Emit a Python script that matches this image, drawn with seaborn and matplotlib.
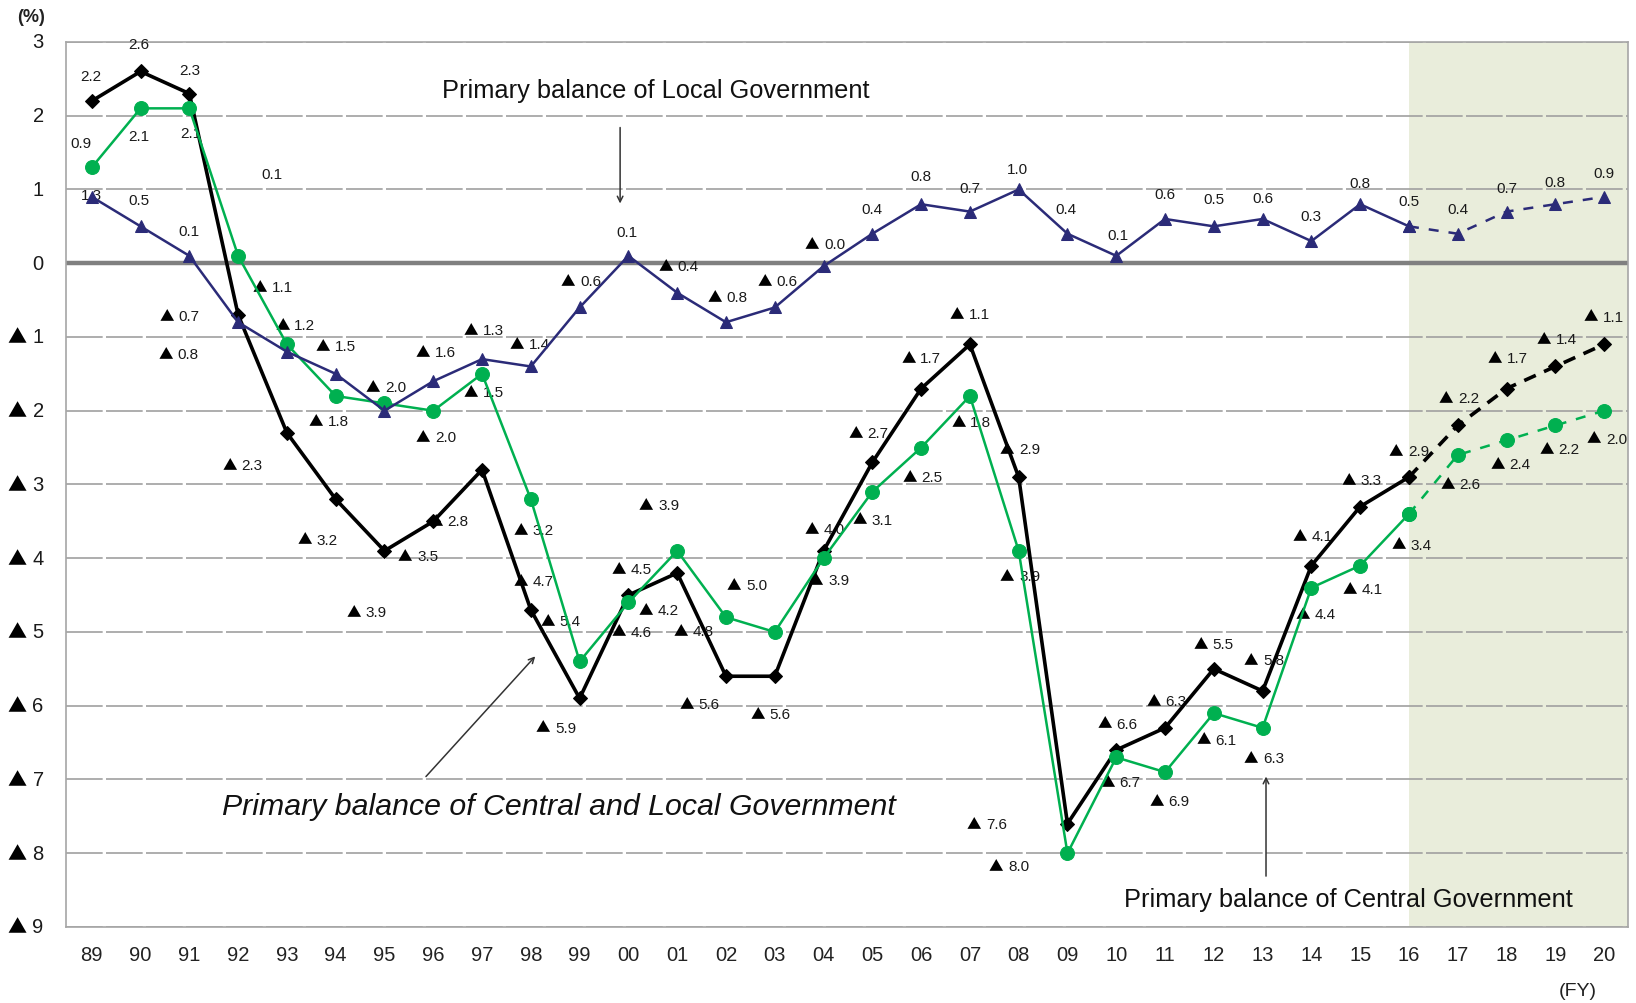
import pandas as pd
import seaborn as sns
import matplotlib.pyplot as plt
from matplotlib.offsetbox import TextArea, HPacker, AnnotationBbox

# fiscal years and primary balance (% of GDP); the last five are forecasts
years = ['89', '90', '91', '92', '93', '94', '95', '96', '97', '98', '99', '00', '01', '02', '03', '04',
         '05', '06', '07', '08', '09', '10', '11', '12', '13', '14', '15', '16', '17', '18', '19', '20']
central_local = [2.2, 2.6, 2.3, -0.7, -2.3, -3.2, -3.9, -3.5, -2.8, -4.7, -5.9, -4.5, -4.2, -5.6, -5.6, -3.9,
                 -2.7, -1.7, -1.1, -2.9, -7.6, -6.6, -6.3, -5.5, -5.8, -4.1, -3.3, -2.9, -2.2, -1.7, -1.4, -1.1]
central = [1.3, 2.1, 2.1, 0.1, -1.1, -1.8, -1.9, -2.0, -1.5, -3.2, -5.4, -4.6, -3.9, -4.8, -5.0, -4.0,
           -3.1, -2.5, -1.8, -3.9, -8.0, -6.7, -6.9, -6.1, -6.3, -4.4, -4.1, -3.4, -2.6, -2.4, -2.2, -2.0]
local = [0.9, 0.5, 0.1, -0.8, -1.2, -1.5, -2.0, -1.6, -1.3, -1.4, -0.6, 0.1, -0.4, -0.8, -0.6, -0.04,
         0.4, 0.8, 0.7, 1.0, 0.4, 0.1, 0.6, 0.5, 0.6, 0.3, 0.8, 0.5, 0.4, 0.7, 0.8, 0.9]
first_forecast = '16'
ytick_vals = list(range(3, -10, -1))

# label offsets in points (None = no label drawn)
off_cl = [(-1, 18), (-1, 20), (0, 17), (-42, -1), (-32, -23), (-13, -29), (-13, -44), (-11, -25), (-24, -37),
          (2, 21), (-17, -21), (2, 19), (-13, -27), (-19, -20), (-3, -27), (4, -21), (-3, 21), (0, 22),
          (0, 22), (1, 20), (-58, 0), (1, 19), (1, 19), (0, 18), (1, 22), (1, 21), (1, 19), (0, 19),
          (1, 20), (1, 22), (1, 20), (0, 20)]
off_c = [(0, -20), (-1, -20), (1, -18), (24, 59), (-10, 41), (-5, -18), None, (2, -19), (1, -13),
         (2, -22), (-14, 29), (2, -21), (-13, 33), (-23, -10), (-20, 34), (1, 21), (0, -20), (1, -21),
         (1, -19), (1, -18), (-42, -9), (3, -18), (3, -21), (2, -19), (1, -22), (3, -19), (2, -17),
         (2, -22), (2, -21), (3, -17), (3, -17), (2, -20)]
off_l = [(-8, 39), (-1, 19), (0, 18), (-43, -23), (6, 19), (0, 20), (1, 17), (2, 21), (1, 21), (-1, 16),
         (1, 19), (-1, 17), (1, 19), (1, 18), (2, 19), (1, 16), (0, 18), (0, 20), (0, 17), (-1, 15),
         (-1, 18), (1, 15), (0, 18), (0, 20), (0, 15), (0, 18), (0, 15), (0, 18), (0, 18), (0, 17),
         (0, 16), (0, 17)]

sns.set_style('white')
plt.rcParams['font.family'] = ['Liberation Sans', 'DejaVu Sans']

df = pd.DataFrame({'pos': range(len(years)), 'year': years, 'cl': central_local, 'c': central, 'l': local})
k = years.index(first_forecast)
actual = df.iloc[:k + 1]
forecast = df.iloc[k:]


def value_box(v, size, digits=1):
    # negative numbers are written with a black triangle, Japanese style
    num = TextArea(f'{abs(v):.{digits}f}', textprops=dict(size=size, color='#1a1a1a'))
    if v >= 0:
        return num
    tri = TextArea('▲', textprops=dict(size=size * 0.95, color='black', family='Noto Sans CJK JP'))
    return HPacker(children=[tri, num], align='baseline', pad=0, sep=size * 0.3)


def put_label(ax, xy, box, off, coords='data', align=(0.5, 0.5)):
    ab = AnnotationBbox(box, xy, xycoords=coords, xybox=off, boxcoords='offset points',
                        frameon=False, box_alignment=align, pad=0, zorder=3, annotation_clip=False)
    ax.add_artist(ab)


fig = plt.figure(figsize=(16.36, 10.04), dpi=100)
ax = fig.add_axes([0.0403, 0.0757, 0.9548, 0.8815])

ax.axvspan(k, len(years) - 0.49, color='#E9EDDB', zorder=0, lw=0)
for yv in ytick_vals:
    if yv == 0:
        ax.axhline(0, color='#808080', lw=3.2, zorder=1)
    else:
        ax.axhline(yv, color='#A0A0A0', lw=1.2, ls=(0, (22, 2)), zorder=1)

series = [('cl', 'black', 'D', 7.5, 2.6, (3.5, 2.5)),
          ('c', '#00B050', 'o', 10, 1.8, (4, 4)),
          ('l', '#2B2B78', '^', 8, 1.8, (4, 4))]
for col, color, mk, ms, lw, dash in series:
    sns.lineplot(data=actual, x='pos', y=col, ax=ax, color=color, marker=mk, markersize=ms,
                 markeredgecolor=color, linewidth=lw, zorder=4)
    sns.lineplot(data=forecast, x='pos', y=col, ax=ax, color=color, marker=mk, markersize=ms,
                 markeredgecolor=color, linewidth=lw, linestyle=(0, dash), zorder=4)

for col, offs in [('cl', off_cl), ('c', off_c), ('l', off_l)]:
    for p, v, o in zip(df['pos'], df[col], offs):
        if o is not None:
            put_label(ax, (p, v), value_box(v, 11), o)

# captions with arrows
arrow = dict(arrowstyle='->', color='#333333', lw=1.1, shrinkA=0, shrinkB=0)
ax.text(11.56, 2.35, 'Primary balance of Local Government', ha='center', va='center', fontsize=18.3, color='#111111')
ax.annotate('', xy=(10.83, 0.81), xytext=(10.83, 1.84), arrowprops=arrow)
ax.text(9.57, -7.36, 'Primary balance of Central and Local Government', ha='center', va='center',
        fontsize=21.8, style='italic', color='#111111')
ax.annotate('', xy=(9.09, -5.33), xytext=(6.85, -6.96), arrowprops=arrow)
ax.text(25.76, -8.62, 'Primary balance of Central Government', ha='center', va='center', fontsize=18.3, color='#111111')
ax.annotate('', xy=(24.07, -6.96), xytext=(24.07, -8.31), arrowprops=arrow)

ax.set_xlim(-0.53, len(years) - 0.51)
ax.set_ylim(-9, 3)
ax.set_xticks(df['pos'])
ax.set_xticklabels(years)
ax.set_yticks(ytick_vals)
ax.set_yticklabels([])
for yv in ytick_vals:
    put_label(ax, (0, yv), value_box(yv, 14.5, digits=0), (-16, 0), coords=('axes fraction', 'data'),
              align=(1, 0.5))
ax.tick_params(axis='both', length=0, labelsize=14.5, colors='#222222')
ax.tick_params(axis='x', pad=13)
ax.set_xlabel('')
ax.set_ylabel('')
for s in ax.spines.values():
    s.set_color('#A6A6A6')
    s.set_linewidth(1.2)

fig.text(0.019, 0.983, '(%)', ha='center', va='center', fontsize=13, fontweight='bold', color='#222222')
fig.text(0.9646, 0.012, '(FY)', ha='center', va='center', fontsize=14, color='#222222')

fig.savefig('out.png', dpi=100)
